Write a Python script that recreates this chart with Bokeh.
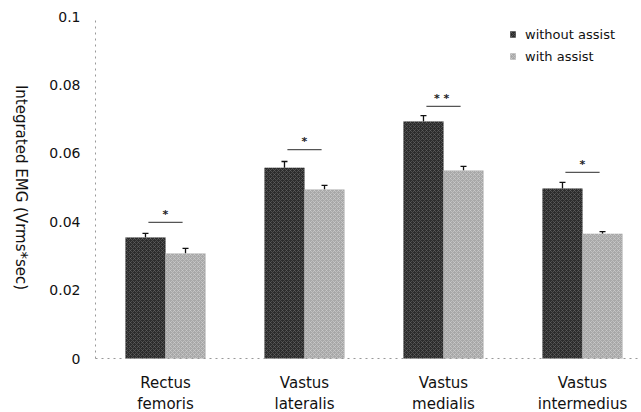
import math
from bokeh.plotting import figure
from bokeh.models import (ColumnDataSource, FixedTicker, Whisker, Legend, LegendItem,
                          Range1d, TeeHead, Label)
from bokeh.core.properties import value
from bokeh.embed import file_html
from bokeh.resources import INLINE

# ---- data ----
categories = ["Rectus\nfemoris", "Vastus\nlateralis", "Vastus\nmedialis", "Vastus\nintermedius"]
without_assist = [0.0354, 0.0558, 0.0693, 0.0497]
with_assist = [0.0307, 0.0494, 0.0550, 0.0365]
err_without = [0.0012, 0.0018, 0.0017, 0.0018]
err_with = [0.0015, 0.0012, 0.0012, 0.0006]
sig_level = [0.0398, 0.0611, 0.0737, 0.0544]
sig_marks = ["*", "*", "*  *", "*"]
y_ticks = [0, 0.02, 0.04, 0.06, 0.08, 0.1]
y_tick_labels = ["0", "0.02", "0.04", "0.06", "0.08", "0.1"]
y_title = "Integrated EMG (Vrms*sec)"

# ---- layout (pixels) ----
W, H = 641, 412
AXIS_X_PX = 95      # position of the y axis
CAT0_PX = 165       # centre of first group
UNIT_PX = 139       # distance between groups
ZERO_PX = 358       # y = 0
TOP_PX = 16         # y = 0.1
YMAX = 0.1
FONT = "DejaVu Sans"

ppu = (ZERO_PX - TOP_PX) / YMAX
x_start = 1 - CAT0_PX / UNIT_PX
x_end = 1 + (W - CAT0_PX) / UNIT_PX
y_end = YMAX + TOP_PX / ppu
y_start = -(H - ZERO_PX) / ppu
axis_x = 1 - (CAT0_PX - AXIS_X_PX) / UNIT_PX

pos = [1, 2, 3, 4]
bw = 0.288
x_dark = [x - bw / 2 for x in pos]
x_light = [x + bw / 2 for x in pos]

p = figure(width=W, height=H, output_backend="svg", toolbar_location=None,
           x_range=Range1d(x_start, x_end), y_range=Range1d(y_start, y_end),
           min_border=0)
p.outline_line_color = None
p.grid.visible = False
p.background_fill_color = "white"

src_d = ColumnDataSource(dict(x=x_dark, top=without_assist,
                              up=[v + e for v, e in zip(without_assist, err_without)]))
src_l = ColumnDataSource(dict(x=x_light, top=with_assist,
                              up=[v + e for v, e in zip(with_assist, err_with)]))

r_d = p.vbar(x="x", top="top", width=bw, source=src_d, fill_color="#2c2c2c",
             line_color=None, hatch_pattern="x", hatch_color="#666666",
             hatch_scale=4, hatch_weight=0.6)
r_l = p.vbar(x="x", top="top", width=bw, source=src_l, fill_color="#a8a8a8",
             line_color=None, hatch_pattern="diagonal_cross", hatch_color="#d0d0d0",
             hatch_scale=4, hatch_weight=0.6)

for src in (src_d, src_l):
    w = Whisker(base="x", lower="top", upper="up", source=src, line_color="#111111",
                line_width=1.3, upper_head=TeeHead(size=6, line_color="#111111", line_width=1.3),
                lower_head=None)
    p.add_layout(w)

# significance lines and stars
half = 0.123
p.segment(x0=[x - half for x in pos], x1=[x + half for x in pos], y0=sig_level, y1=sig_level,
          line_color="#555555", line_width=1.2)
p.text(x=pos, y=[s + 0.0024 for s in sig_level], text=sig_marks, text_align="center",
       text_baseline="middle", text_font=value(FONT), text_font_size="11px",
       text_color="#222222", text_font_style="bold")

# axes drawn inside the frame at fixed locations
p.yaxis.fixed_location = axis_x
p.yaxis.bounds = (0, YMAX)
p.xaxis.fixed_location = 0
p.xaxis.bounds = (axis_x, x_end)
p.yaxis.ticker = FixedTicker(ticks=y_ticks)
p.yaxis.major_label_overrides = {t: l for t, l in zip(y_ticks, y_tick_labels)}
p.xaxis.ticker = FixedTicker(ticks=pos)
p.xaxis.major_label_overrides = {x: c for x, c in zip(pos, categories)}
for ax in (p.xaxis, p.yaxis):
    ax.axis_line_color = "#999999"
    ax.axis_line_dash = "dotted"
    ax.major_tick_line_color = None
    ax.minor_tick_line_color = None
    ax.major_tick_out = 0
    ax.major_tick_in = 0
    ax.minor_tick_out = 0
    ax.minor_tick_in = 0
    ax.major_label_text_font = FONT
    ax.major_label_text_color = "#111111"
p.yaxis.major_label_text_font_size = "14px"
p.yaxis.major_label_standoff = 15
p.xaxis.major_label_text_font_size = "15px"
p.xaxis.major_label_standoff = 15
p.xaxis.major_label_text_line_height = 1.2

# y axis title, reading top to bottom
p.add_layout(Label(x=x_start, y=YMAX / 2, x_offset=20, text=y_title,
                   angle=-math.pi / 2, text_align="center", text_baseline="middle",
                   text_font=FONT, text_font_size="15px", text_color="#111111"))

legend = Legend(items=[LegendItem(label="without assist", renderers=[r_d]),
                       LegendItem(label="with assist", renderers=[r_l])],
                location="top_right", border_line_color=None, background_fill_alpha=0,
                padding=0, margin=0, spacing=6, glyph_width=7, glyph_height=8,
                label_height=16, label_standoff=9, label_text_font=FONT,
                label_text_font_size="13px", label_text_color="#111111")
p.add_layout(legend)
legend.location = (509, H - 26 - 38)

open("out.html", "w").write(file_html(p, INLINE))
